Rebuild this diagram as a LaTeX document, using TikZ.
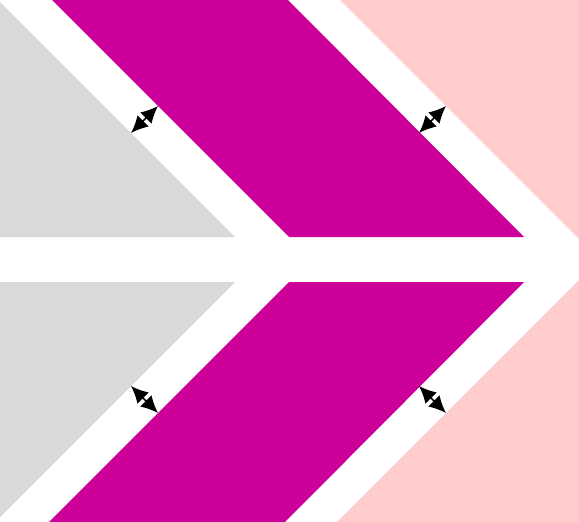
\documentclass[tikz,border=0pt]{standalone}
\usetikzlibrary{arrows.meta}
\definecolor{cgray}{HTML}{D9D9D9}
\definecolor{cmag}{HTML}{CC0099}
\definecolor{cpink}{HTML}{FFCCCC}
\begin{document}
\begin{tikzpicture}[x=1pt,y=-1pt,
  dimarrow/.style={line width=1.5pt, black, >={Latex[length=17pt,width=16pt]}, <->}]
\useasboundingbox[fill=white] (0,0) rectangle (579,522);
% top
\fill[cgray] (0,2) -- (235,237) -- (0,237) -- cycle;
\fill[cmag] (52,0) -- (288,0) -- (524,237) -- (289,237) -- cycle;
\fill[cpink] (340,0) -- (579,0) -- (579,239) -- cycle;
% bottom
\fill[cgray] (0,282) -- (235,282) -- (0,517) -- cycle;
\fill[cmag] (289,282) -- (524,282) -- (285,522) -- (49,522) -- cycle;
\fill[cpink] (579,280) -- (579,522) -- (337,522) -- cycle;
% arrows
\coordinate (a1) at (131,133);
\coordinate (b1) at (158,106);
\coordinate (a2) at (419,133);
\coordinate (b2) at (446,106);
\coordinate (a3) at (131,386);
\coordinate (b3) at (158,413);
\coordinate (a4) at (419,386);
\coordinate (b4) at (446,413);
\draw[dimarrow] (a1) -- (b1);
\draw[dimarrow] (a2) -- (b2);
\draw[dimarrow] (a3) -- (b3);
\draw[dimarrow] (a4) -- (b4);
\end{tikzpicture}
\end{document}
